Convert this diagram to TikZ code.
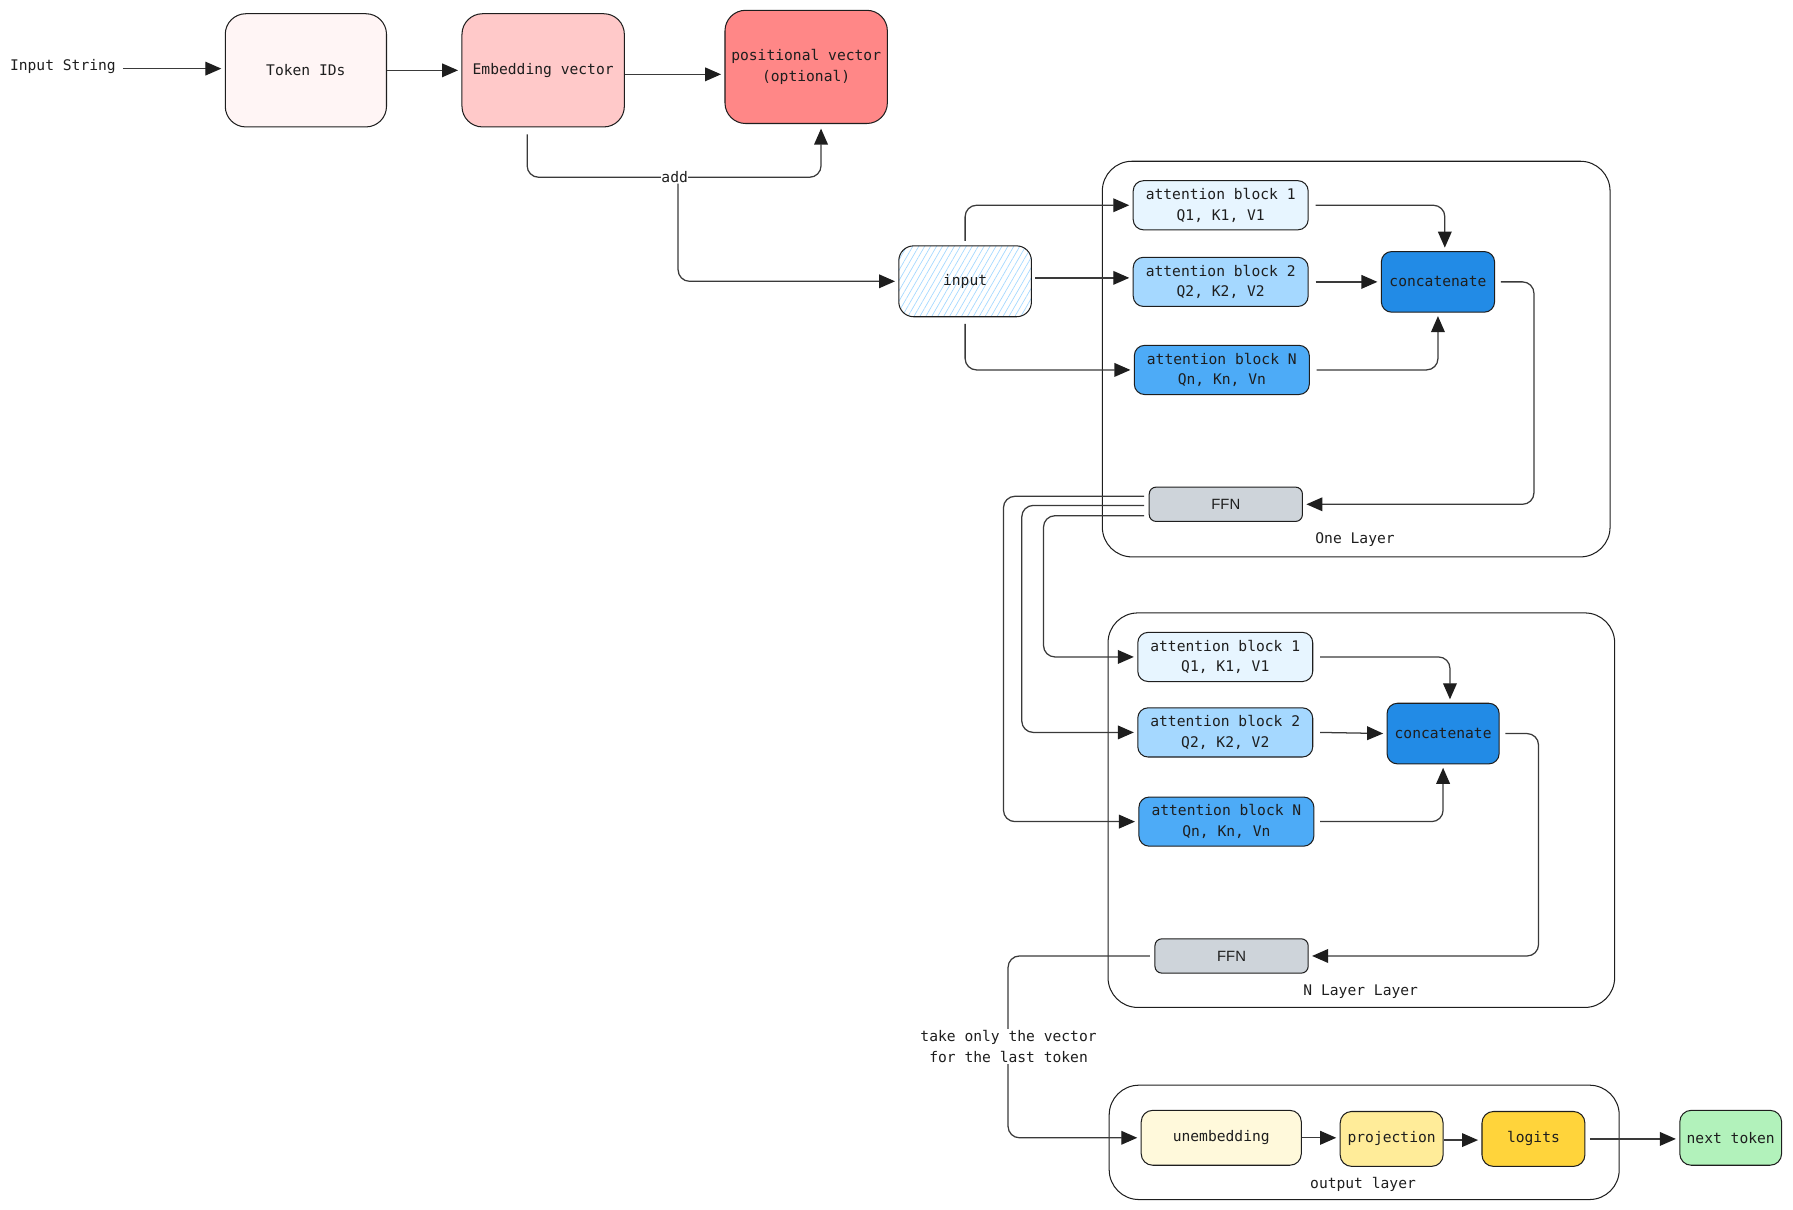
\documentclass[tikz,border=0pt]{standalone}
\usepackage{fontspec}
\setmainfont{DejaVu Sans Mono}
\newfontfamily\ffnfont{Liberation Sans}
\usetikzlibrary{arrows.meta,patterns.meta}
\definecolor{ink}{HTML}{1E1E1E}
\definecolor{line}{HTML}{3A3A3A}
\definecolor{ctok}{HTML}{FFF5F5}
\definecolor{cemb}{HTML}{FFC9C9}
\definecolor{cpos}{HTML}{FF8787}
\definecolor{chatch}{HTML}{A5D8FF}
\definecolor{ca}{HTML}{E7F5FF}
\definecolor{cb}{HTML}{A5D8FF}
\definecolor{cn}{HTML}{4DABF7}
\definecolor{ccat}{HTML}{228BE6}
\definecolor{cffn}{HTML}{CED4DA}
\definecolor{cue}{HTML}{FFF9DB}
\definecolor{cpr}{HTML}{FFEC99}
\definecolor{clg}{HTML}{FFD43B}
\definecolor{cnt}{HTML}{B2F2BB}
\begin{document}
\begin{tikzpicture}[x=1pt,y=-1pt,
  txt/.style={font=\fontsize{12.8}{18}\selectfont, text=ink, align=center, inner sep=0pt},
  box/.style={txt, draw=ink, line width=0.9pt, rounded corners=#1},
  box/.default=9pt,
  bigbox/.style={box=18pt, minimum width=141pt, minimum height=99pt},
  attbox/.style={box=9pt, minimum width=153pt, minimum height=43pt},
  catbox/.style={box=9pt, minimum width=99pt, minimum height=53pt, fill=ccat},
  ffnbox/.style={box=6pt, minimum width=134pt, minimum height=30pt, fill=cffn, font=\ffnfont\fontsize{13}{16}\selectfont},
  outbox/.style={box=10pt, minimum height=48pt},
  frame/.style={draw=ink, line width=0.9pt, rounded corners=26pt},
  lbl/.style={txt, fill=white, inner sep=1.5pt},
  arr/.style={draw=line, line width=1.1pt, rounded corners=10pt, -{Triangle[length=14pt,width=12pt,color=ink]}, shorten >=3pt},
  ln/.style={draw=line, line width=1.1pt, rounded corners=10pt}
]
\useasboundingbox (0,0) rectangle (1568,1058);

% frames
\draw[frame] (964,141) rectangle (1408,487);
\draw[frame] (969,536) rectangle (1412,881);
\draw[frame] (970,949) rectangle (1416,1049);
\node[txt] (lay1) at (1185,472) {One Layer};
\node[txt] (lay2) at (1190,867) {N Layer Layer};
\node[txt] (lay3) at (1192,1036) {output layer};

% top row
\node[txt] (instr) at (55,58) {Input String};
\node[bigbox, fill=ctok] (tok) at (267.5,61.5) {Token IDs};
\node[bigbox, fill=cemb, minimum width=142pt] (emb) at (475,61.5) {Embedding vector};
\node[bigbox, fill=cpos, minimum width=142pt] (pos) at (705,58.5) {positional vector\\(optional)};

% input
\node[box=13pt, minimum width=116pt, minimum height=62pt,
      pattern={Lines[angle=60,distance=4.5pt,line width=0.6pt]}, pattern color=chatch] (inp) at (844,246) {};
\node[txt] (inptxt) at (inp.center) {input};

% layer 1
\node[attbox, fill=ca] (a1) at (1067.5,179.5) {attention block 1\\Q1, K1, V1};
\node[attbox, fill=cb] (a2) at (1067.5,246.5) {attention block 2\\Q2, K2, V2};
\node[attbox, fill=cn] (an) at (1068.5,323.5) {attention block N\\Qn, Kn, Vn};
\node[catbox] (cc) at (1257.5,246.5) {concatenate};
\node[ffnbox] (ffn) at (1072,441) {FFN};

% layer 2
\node[attbox, fill=ca] (b1) at (1071.5,574.5) {attention block 1\\Q1, K1, V1};
\node[attbox, fill=cb] (b2) at (1071.5,640.5) {attention block 2\\Q2, K2, V2};
\node[attbox, fill=cn] (bn) at (1072.5,718.5) {attention block N\\Qn, Kn, Vn};
\node[catbox, minimum width=98pt] (cc2) at (1262,641.5) {concatenate};
\node[ffnbox] (ffn2) at (1077,836) {FFN};

% output layer
\node[outbox, fill=cue, minimum width=140pt] (ue) at (1068,995) {unembedding};
\node[outbox, fill=cpr, minimum width=90pt] (pr) at (1217,996) {projection};
\node[outbox, fill=clg, minimum width=90pt] (lg) at (1341,996) {logits};
\node[outbox, fill=cnt, minimum width=89pt] (nt) at (1513.5,995) {next token};

% top connectors
\draw[arr] ([xshift=6pt,yshift=-2pt]instr.east) -- ([yshift=-2pt]instr.east -| tok.west);
\draw[arr] (tok.east) -- (emb.west);
\draw[arr] ([yshift=-3.5pt]emb.east) -- ([yshift=-3.5pt]emb.east -| pos.west);
\coordinate (addpt) at (590,155);
\draw[arr, shorten >=0pt] ([xshift=-14pt,yshift=-6pt]emb.south) |- (addpt) -| ([xshift=13pt,yshift=-4pt]pos.south);
\node[lbl, inner sep=0.5pt] (add) at (addpt) {add};
\draw[arr] ([xshift=3pt]add.south) |- (inp.west);

% layer 1 connectors
\draw[arr] ([yshift=4pt]inp.north) |- (a1.west);
\draw[arr] ([xshift=3pt,yshift=3pt]inp.east) -- ([yshift=3pt]inp.east -| a2.west);
\draw[arr] ([yshift=-6pt]inp.south) |- (an.west);
\draw[arr] ([xshift=6pt]a1.east) -| ([xshift=6pt]cc.north);
\draw[arr] ([xshift=6pt]a2.east) -- (cc.west);
\draw[arr] ([xshift=6pt]an.east) -| (cc.south);
\draw[arr] ([xshift=5pt]cc.east) -- ++(29,0) |- (ffn.east);

% layer 1 -> layer 2
\draw[arr] ([xshift=-4pt,yshift=7pt]ffn.west) -- ++(-123,0) |- (bn.west);
\draw[arr] ([xshift=-4pt,yshift=-1pt]ffn.west) -- ++(-107,0) |- (b2.west);
\draw[arr] ([xshift=-4pt,yshift=-10pt]ffn.west) -- ++(-88,0) |- (b1.west);

% layer 2 connectors
\draw[arr] ([xshift=6pt]b1.east) -| ([xshift=6pt]cc2.north);
\draw[arr] ([xshift=6pt]b2.east) -- (cc2.west);
\draw[arr] ([xshift=5pt]bn.east) -| (cc2.south);
\draw[arr] ([xshift=5pt]cc2.east) -- ++(29,0) |- (ffn2.east);

% to output
\draw[arr] ([xshift=-4pt]ffn2.west) -- ++(-124,0) |- (ue.west);
\node[lbl] (take) at (882,915) {take only the vector\\for the last token};

% output connectors
\draw[arr] (ue.east) -- (ue.east -| pr.west);
\draw[arr] ([yshift=-1pt]pr.east) -- ([yshift=-1pt]pr.east -| lg.west);
\draw[arr] ([xshift=4pt]lg.east) -- (lg.east -| nt.west);
\end{tikzpicture}
\end{document}
